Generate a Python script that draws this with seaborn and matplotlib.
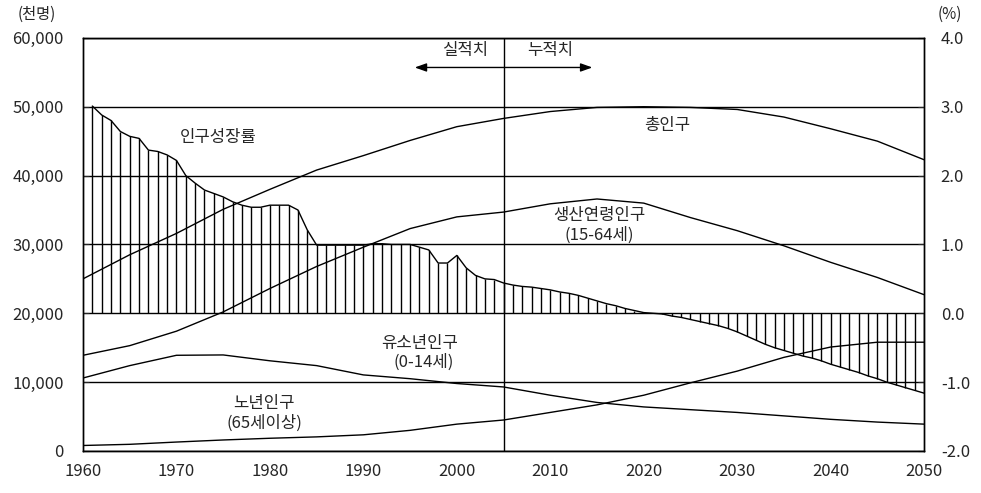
import matplotlib
matplotlib.use("Agg")
import matplotlib.pyplot as plt
import seaborn as sns
import numpy as np
import pandas as pd

# population (thousand persons), read every 5 years
years = [1960, 1965, 1970, 1975, 1980, 1985, 1990, 1995, 2000, 2005,
         2010, 2015, 2020, 2025, 2030, 2035, 2040, 2045, 2050]
total_pop = [25.0, 28.5, 31.6, 35.1, 38.0, 40.8, 42.9, 45.1, 47.1, 48.3,
             49.3, 49.9, 50.0, 49.9, 49.6, 48.5, 46.8, 45.0, 42.3]
working_pop = [13.9, 15.3, 17.4, 20.2, 23.6, 26.8, 29.6, 32.3, 34.0, 34.7,
               35.9, 36.6, 36.0, 33.9, 32.0, 29.8, 27.4, 25.2, 22.7]
youth_pop = [10.6, 12.4, 13.9, 13.95, 13.1, 12.4, 11.05, 10.5, 9.8, 9.3,
             8.1, 7.05, 6.4, 6.0, 5.6, 5.1, 4.6, 4.2, 3.9]
elderly_pop = [0.8, 0.97, 1.3, 1.6, 1.85, 2.05, 2.35, 3.0, 3.9, 4.5,
               5.6, 6.7, 8.1, 9.9, 11.6, 13.6, 15.1, 15.8, 15.8]

# population growth rate (%), yearly
rate_years = list(range(1961, 2051))
growth_rate = [3.01, 2.88, 2.80, 2.64, 2.57, 2.54, 2.37, 2.35, 2.30, 2.22,
               2.00, 1.89, 1.79, 1.74, 1.69, 1.62, 1.57, 1.54, 1.54, 1.57,
               1.57, 1.57, 1.50, 1.21, 0.99, 0.99, 0.99, 0.99, 0.99, 0.99,
               1.01, 1.01, 1.00, 1.00, 1.00, 0.96, 0.92, 0.73, 0.73, 0.84,
               0.66, 0.55, 0.50, 0.49, 0.44, 0.41, 0.39, 0.38, 0.36, 0.34,
               0.31, 0.29, 0.26, 0.22, 0.18, 0.14, 0.11, 0.07, 0.04, 0.01,
               0.00, -0.01, -0.04, -0.06, -0.09, -0.12, -0.15, -0.18, -0.22, -0.27,
               -0.33, -0.39, -0.45, -0.50, -0.54, -0.58, -0.62, -0.65, -0.69, -0.74,
               -0.78, -0.82, -0.86, -0.91, -0.95, -1.00, -1.04, -1.08, -1.12, -1.16]

sns.set_style("white")
plt.rcParams['font.family'] = ['Noto Sans CJK KR', 'DejaVu Sans']

fig = plt.figure(figsize=(9.81, 4.93), dpi=100)
ax = fig.add_axes([0.0846, 0.0852, 0.8574, 0.838])
ax2 = ax.twinx()

pop = pd.DataFrame({'year': years, 'total': np.array(total_pop) * 1000,
                    'working': np.array(working_pop) * 1000,
                    'youth': np.array(youth_pop) * 1000,
                    'elderly': np.array(elderly_pop) * 1000})
for col in ['total', 'working', 'youth', 'elderly']:
    sns.lineplot(data=pop, x='year', y=col, color='black', lw=1, ax=ax)

rate = pd.DataFrame({'year': rate_years, 'rate': growth_rate})
ax2.vlines(rate['year'], 0, rate['rate'], colors='black', lw=1)
sns.lineplot(data=rate, x='year', y='rate', color='black', lw=1, ax=ax2)

ax.set_xlim(1960, 2050)
ax.set_ylim(0, 60000)
ax2.set_ylim(-2, 4)
ax.set_xticks(range(1960, 2051, 10))
ax.set_xticks(range(1965, 2051, 10), minor=True)
ax.set_yticks(range(0, 60001, 10000))
ax.set_yticklabels(['{:,}'.format(v) for v in range(0, 60001, 10000)])
ax2.set_yticks(np.arange(-2, 4.01, 1))
ax2.set_yticklabels(['{:.1f}'.format(v) for v in np.arange(-2, 4.01, 1)])
ax.set_xlabel('')
ax.set_ylabel('')
ax2.set_xlabel('')
ax2.set_ylabel('')

ax.grid(axis='y', color='black', lw=1)
ax.axvline(2005, color='black', lw=1)

for a in (ax, ax2):
    for s in a.spines.values():
        s.set_color('black')
        s.set_linewidth(1)
ax.tick_params(axis='x', which='both', direction='in', length=4, labelsize=12, pad=9)
ax.tick_params(axis='y', direction='in', length=4, labelsize=12, left=True, pad=14)
ax2.tick_params(axis='y', direction='in', length=4, labelsize=12, right=True, pad=12)

fig.text(0.037, 0.97, '(천명)', ha='center', va='center', fontsize=11)
fig.text(0.968, 0.97, '(%)', ha='center', va='center', fontsize=11)

fs = 12
ax.text(1974.5, 45600, '인구성장률', ha='center', va='center', fontsize=fs)
ax.text(2022.5, 47300, '총인구', ha='center', va='center', fontsize=fs)
ax.text(2015.2, 34200, '생산연령인구', ha='center', va='center', fontsize=fs)
ax.text(2015.2, 31300, '(15-64세)', ha='center', va='center', fontsize=fs)
ax.text(1996.0, 15600, '유소년인구', ha='center', va='center', fontsize=fs)
ax.text(1996.5, 12900, '(0-14세)', ha='center', va='center', fontsize=fs)
ax.text(1979.4, 6900, '노년인구', ha='center', va='center', fontsize=fs)
ax.text(1979.4, 4100, '(65세이상)', ha='center', va='center', fontsize=fs)

ax.annotate('', xy=(1995.2, 55700), xytext=(2014.8, 55700),
            arrowprops=dict(arrowstyle='<|-|>,head_length=0.7,head_width=0.25',
                            color='black', lw=1))
ax.text(2000.9, 58200, '실적치', ha='center', va='center', fontsize=fs)
ax.text(2010.0, 58200, '누적치', ha='center', va='center', fontsize=fs)

fig.savefig('out.png', dpi=100, facecolor='white')
